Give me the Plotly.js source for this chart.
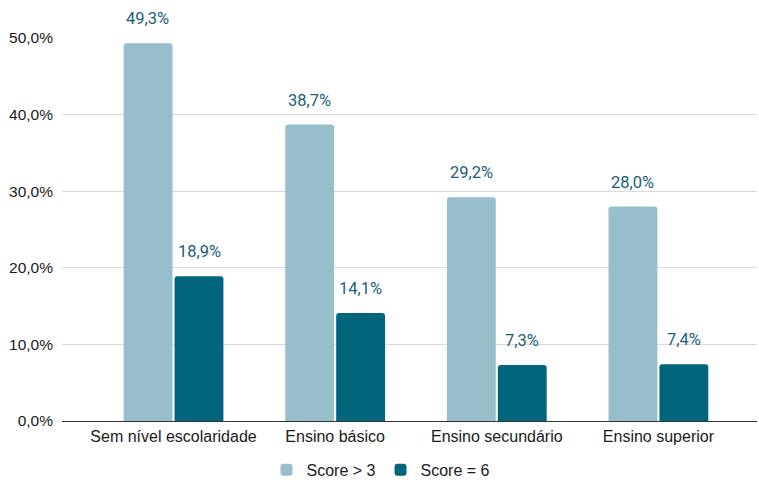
<!DOCTYPE html>
<html><head><meta charset="utf-8">
<script src="https://cdn.plot.ly/plotly-3.0.1.min.js"></script>
<style>body{margin:0;background:#fff}#c{width:759px;height:482px}</style>
</head><body><div id="c"></div>
<script>
const categories = ["Sem nível escolaridade", "Ensino básico", "Ensino secundário", "Ensino superior"];
const seriesNames = ["Score > 3", "Score = 6"];
const scoreAbove3 = [49.3, 38.7, 29.2, 28.0];
const scoreEq6 = [18.9, 14.1, 7.3, 7.4];
const colors = ["#97BECA", "#01657E"];
const labelColor = "#1B5E78";

const fmt = v => v.toFixed(1).replace('.', ',') + '%';
const off = 0.158;
const traces = [scoreAbove3, scoreEq6].map((vals, k) => ({
  type: 'bar', name: seriesNames[k], x: categories, y: vals,
  marker: {color: colors[k], cornerradius: 3},
  hoverinfo: 'none'
}));
const annotations = [];
[scoreAbove3, scoreEq6].forEach((vals, k) => {
  vals.forEach((v, i) => {
    annotations.push({x: i + (k === 0 ? -off : off), y: v, xref: 'x', yref: 'y',
      text: fmt(v), showarrow: false, yanchor: 'bottom', yshift: 13,
      font: {family: 'Roboto, Arial, sans-serif', size: 16.5, color: labelColor}});
  });
});
const tf = {family: 'Liberation Sans, Arial, sans-serif', size: 16, color: '#1a1a1a'};
const layout = {
  width: 759, height: 482,
  margin: {l: 62, r: 2, t: 38, b: 61},
  separators: ',.',
  barmode: 'group', bargap: 0.37, bargroupgap: 0.04,
  showlegend: true,
  legend: {orientation: 'h', x: 0.459, xanchor: 'center', yref: 'container', y: 0.025, yanchor: 'middle',
    font: tf},
  xaxis: {type: 'category', range: [-0.69, 3.61], showgrid: false, ticks: '', automargin: false,
    tickfont: tf, ticklabelstandoff: 4,
    showline: false, zeroline: false},
  yaxis: {range: [0, 50], dtick: 10, tickformat: '.1f', ticksuffix: '%', automargin: false,
    gridcolor: '#d9d9d9', gridwidth: 1, zeroline: true, zerolinecolor: '#333', zerolinewidth: 1,
    showline: false, ticks: '', ticklabelstandoff: 8,
    tickfont: {family: 'Liberation Sans, Arial, sans-serif', size: 15.5, color: '#1a1a1a'}},
  annotations: annotations,
  plot_bgcolor: '#fff', paper_bgcolor: '#fff'
};
Plotly.newPlot('c', traces, layout, {displayModeBar: false, staticPlot: true});
</script></body></html>
